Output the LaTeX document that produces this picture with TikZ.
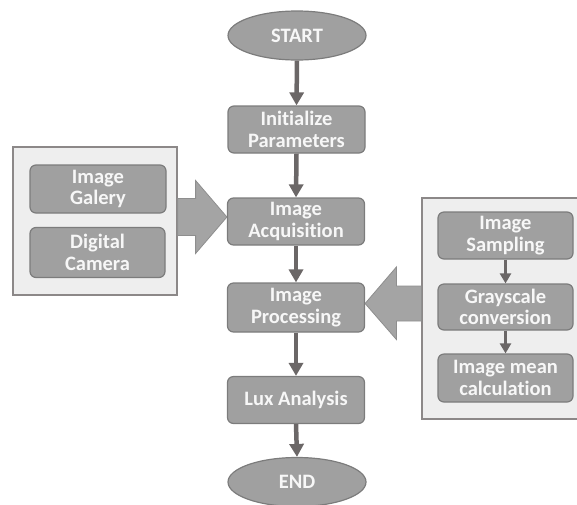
\documentclass[tikz,border=0pt]{standalone}
\usepackage{fontspec}
\setmainfont{Carlito}[Ligatures=CommonOff]
\usetikzlibrary{shapes.geometric,arrows.meta,calc}
\definecolor{boxfill}{HTML}{A0A0A0}
\definecolor{boxdraw}{HTML}{7C7C7C}
\definecolor{panelfill}{HTML}{EEEEEE}
\definecolor{paneldraw}{HTML}{8C8888}
\definecolor{arrowcol}{HTML}{6B6767}
\definecolor{bigfill}{HTML}{A4A4A4}
\definecolor{bigdraw}{HTML}{8E8E8E}
\definecolor{txt}{HTML}{F7F7F7}
\tikzset{
  box/.style={draw=boxdraw, fill=boxfill, line width=1.2pt, rounded corners=6pt,
    minimum width=137pt, minimum height=47pt, inner sep=0pt, align=center,
    text=txt, font=\bfseries\fontsize{20.5}{21.5}\selectfont},
  sbox/.style={box, minimum width=135pt},
  oval/.style={ellipse, draw=boxdraw, fill=boxfill, line width=1.2pt,
    minimum width=138pt, minimum height=49pt, inner sep=0pt,
    text=txt, font=\bfseries\fontsize{20.5}{21.5}\selectfont},
  panel/.style={draw=paneldraw, fill=panelfill, line width=1.2pt, inner sep=0pt},
  flow/.style={draw=arrowcol, line width=4.5pt, -{Triangle[width=14pt,length=13pt]}},
  sflow/.style={draw=arrowcol, line width=3.5pt, -{Triangle[width=11pt,length=10pt]}},
  bigarr/.style={draw=bigdraw, fill=bigfill, line width=0.8pt, line join=miter},
}
\begin{document}
\begin{tikzpicture}[x=1pt,y=-1pt]
\useasboundingbox (0,0) rectangle (577,504);
% panels
\node[panel, minimum width=164pt, minimum height=148pt] (lpanel) at (95,221) {};
\node[panel, minimum width=160pt, minimum height=221pt] (rpanel) at (502,308.5) {};
% main flow
\node[oval] (start) at (297,35.5) {START};
\node[box] (init) at (296.5,129.5) {Initialize\\Parameters};
\node[box] (acq) at (296,221.5) {Image\\Acquisition};
\node[box, minimum height=49pt] (proc) at (296,307.5) {Image\\Processing};
\node[box] (lux) at (296,400) {Lux Analysis};
\node[oval] (end) at (297,482) {END};
% left panel boxes
\node[box, minimum width=136pt, minimum height=48pt] (gal) at (98,189) {Image\\Galery};
\node[box, minimum width=135pt, minimum height=50pt] (cam) at (97.5,252.5) {Digital\\Camera};
% right panel boxes
\node[sbox] (samp) at (505.5,235.5) {Image\\Sampling};
\node[sbox, minimum height=46pt] (gray) at (505.5,307) {Grayscale\\conversion};
\node[sbox, minimum height=48pt] (mean) at (505.5,378) {Image mean\\calculation};
% flow arrows
\draw[flow] (start.south) -- (init.north);
\draw[flow] (init.south) -- (acq.north);
\draw[flow] (acq.south) -- (proc.north);
\draw[flow] (proc.south) -- (lux.north);
\draw[flow] (lux.south) -- (end.north);
\draw[sflow] (samp.south) -- (gray.north);
\draw[sflow] (gray.south) -- (mean.north);
% big arrows
\coordinate (ltip) at ($(acq.west)+(0,-4.5)$);
\coordinate (lbase) at (lpanel.east |- ltip);
\draw[bigarr] ($(lbase)+(0,-18.5)$) -- ++(18,0) -- ++(0,-18) -- (ltip)
  -- ($(lbase)+(18,36.5)$) -- ++(0,-18) -- ($(lbase)+(0,18.5)$) -- cycle;
\coordinate (rtip) at ($(proc.east)+(0,-4)$);
\coordinate (rbase) at (rpanel.west |- rtip);
\draw[bigarr] ($(rbase)+(0,-17.5)$) -- ++(-25,0) -- ++(0,-19) -- (rtip)
  -- ($(rbase)+(-25,36)$) -- ++(0,-18.5) -- ($(rbase)+(0,17.5)$) -- cycle;
\end{tikzpicture}
\end{document}
